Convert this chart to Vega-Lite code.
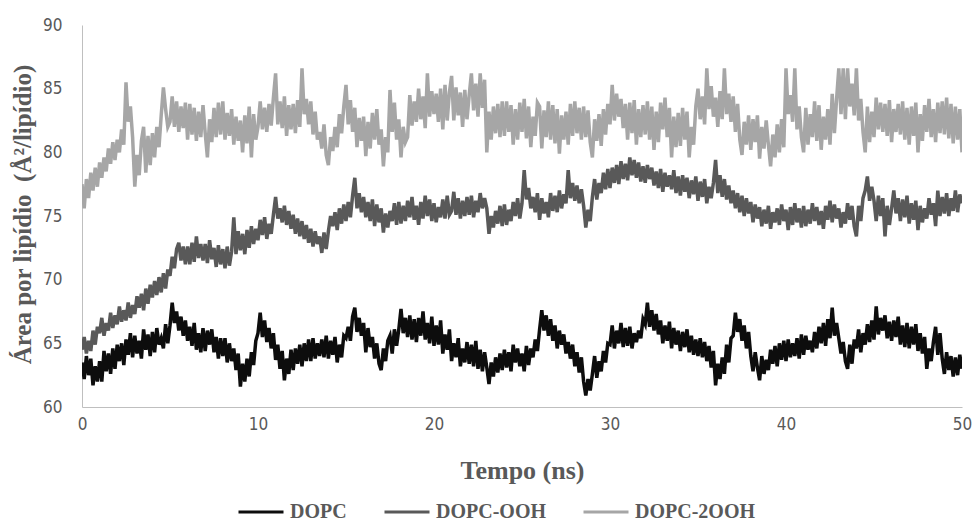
{
"$schema":"https://vega.github.io/schema/vega-lite/v6.json",
"width":880,"height":382,
"autosize":{"type":"none"},
"padding":{"left":82,"top":25,"right":11,"bottom":115},
"background":"white",
"config":{"view":{"stroke":null},"axis":{"grid":false,"ticks":false,"domainColor":"#bfbfbf","domainWidth":1,"labelColor":"#595959","labelFont":"Liberation Sans Narrow, DejaVu Sans Condensed, Liberation Sans","labelFontSize":17,"titleColor":"#595959","titleFont":"Liberation Serif","titleFontWeight":"bold"}},
"datasets":{"names":[{"k":"a","serie":"DOPC"},{"k":"b","serie":"DOPC-OOH"},{"k":"c","serie":"DOPC-2OOH"}]},
"data":{"values":[
{"t":0,"a":63.5,"b":64.5,"c":77.5},{"t":0.125,"a":62.2,"b":65.5,"c":75.6},{"t":0.25,"a":64.0,"b":64.2,"c":77.9},{"t":0.375,"a":62.5,"b":65.2,"c":76.4},{"t":0.5,"a":63.8,"b":64.4,"c":78.4},{"t":0.625,"a":61.7,"b":66.0,"c":77.0},{"t":0.75,"a":63.2,"b":64.9,"c":78.8},{"t":0.875,"a":62.0,"b":66.3,"c":77.3},
{"t":1,"a":63.6,"b":65.8,"c":79.2},{"t":1.125,"a":62.0,"b":67.0,"c":78.0},{"t":1.25,"a":64.4,"b":65.6,"c":79.6},{"t":1.375,"a":62.8,"b":66.6,"c":78.5},{"t":1.5,"a":64.2,"b":66.0,"c":80.3},{"t":1.625,"a":62.6,"b":67.4,"c":79.1},{"t":1.75,"a":64.6,"b":66.2,"c":80.8},{"t":1.875,"a":63.0,"b":67.2,"c":79.4},
{"t":2,"a":64.9,"b":66.5,"c":81.0},{"t":2.125,"a":63.6,"b":67.9,"c":80.0},{"t":2.25,"a":65.0,"b":66.7,"c":81.8},{"t":2.375,"a":63.3,"b":67.6,"c":80.6},{"t":2.5,"a":65.3,"b":66.8,"c":85.5},{"t":2.625,"a":64.1,"b":68.2,"c":82.4},{"t":2.75,"a":65.8,"b":67.0,"c":83.6},{"t":2.875,"a":63.9,"b":68.0,"c":81.2},
{"t":3,"a":65.6,"b":67.3,"c":77.3},{"t":3.125,"a":64.2,"b":68.7,"c":79.8},{"t":3.25,"a":65.2,"b":67.8,"c":78.2},{"t":3.375,"a":63.8,"b":68.9,"c":80.9},{"t":3.5,"a":66.1,"b":67.6,"c":82.0},{"t":3.625,"a":64.5,"b":69.3,"c":78.4},{"t":3.75,"a":65.7,"b":68.1,"c":81.3},{"t":3.875,"a":64.0,"b":69.6,"c":79.0},
{"t":4,"a":65.9,"b":68.6,"c":81.5},{"t":4.125,"a":64.3,"b":69.9,"c":79.6},{"t":4.25,"a":66.2,"b":68.8,"c":82.0},{"t":4.375,"a":64.9,"b":70.2,"c":80.4},{"t":4.5,"a":65.4,"b":69.0,"c":82.9},{"t":4.625,"a":64.6,"b":70.5,"c":85.1},{"t":4.75,"a":66.5,"b":69.3,"c":83.4},{"t":4.875,"a":65.0,"b":70.8,"c":82.0},
{"t":5,"a":66.4,"b":70.3,"c":82.4},{"t":5.125,"a":68.2,"b":71.8,"c":84.4},{"t":5.25,"a":66.6,"b":70.9,"c":82.0},{"t":5.375,"a":67.5,"b":72.4,"c":84.0},{"t":5.5,"a":66.0,"b":72.9,"c":81.6},{"t":5.625,"a":67.1,"b":71.5,"c":83.6},{"t":5.75,"a":65.6,"b":72.6,"c":81.9},{"t":5.875,"a":66.8,"b":71.2,"c":83.9},
{"t":6,"a":65.2,"b":72.6,"c":81.0},{"t":6.125,"a":66.3,"b":71.2,"c":83.8},{"t":6.25,"a":64.8,"b":72.9,"c":81.4},{"t":6.375,"a":66.6,"b":71.4,"c":83.5},{"t":6.5,"a":64.5,"b":73.4,"c":80.9},{"t":6.625,"a":65.8,"b":71.7,"c":83.2},{"t":6.75,"a":64.3,"b":72.8,"c":81.2},{"t":6.875,"a":66.2,"b":71.5,"c":83.7},
{"t":7,"a":64.4,"b":72.8,"c":81.5},{"t":7.125,"a":66.0,"b":71.3,"c":79.6},{"t":7.25,"a":64.9,"b":73.1,"c":82.6},{"t":7.375,"a":66.1,"b":71.6,"c":80.8},{"t":7.5,"a":64.3,"b":72.5,"c":83.5},{"t":7.625,"a":65.5,"b":71.0,"c":81.2},{"t":7.75,"a":63.8,"b":72.7,"c":83.9},{"t":7.875,"a":65.4,"b":71.2,"c":81.4},
{"t":8,"a":64.0,"b":72.4,"c":84.0},{"t":8.125,"a":65.4,"b":70.9,"c":81.0},{"t":8.25,"a":63.5,"b":72.6,"c":83.1},{"t":8.375,"a":65.0,"b":71.1,"c":81.3},{"t":8.5,"a":63.6,"b":72.2,"c":83.4},{"t":8.625,"a":64.6,"b":74.9,"c":80.6},{"t":8.75,"a":62.9,"b":72.0,"c":82.8},{"t":8.875,"a":64.2,"b":73.8,"c":80.9},
{"t":9,"a":61.6,"b":72.3,"c":82.5},{"t":9.125,"a":63.4,"b":73.6,"c":80.0},{"t":9.25,"a":62.0,"b":72.0,"c":82.9},{"t":9.375,"a":63.8,"b":73.9,"c":80.7},{"t":9.5,"a":62.4,"b":72.5,"c":83.6},{"t":9.625,"a":64.3,"b":74.2,"c":79.6},{"t":9.75,"a":63.3,"b":72.8,"c":83.0},{"t":9.875,"a":65.2,"b":74.0,"c":81.0},
{"t":10,"a":65.8,"b":73.1,"c":82.0},{"t":10.125,"a":67.4,"b":74.7,"c":84.0},{"t":10.25,"a":65.5,"b":73.5,"c":81.8},{"t":10.375,"a":66.8,"b":74.9,"c":83.5},{"t":10.5,"a":65.1,"b":73.2,"c":81.6},{"t":10.625,"a":66.2,"b":74.4,"c":83.8},{"t":10.75,"a":64.6,"b":73.6,"c":82.1},{"t":10.875,"a":65.8,"b":75.1,"c":84.3},
{"t":11,"a":63.7,"b":76.5,"c":86.2},{"t":11.125,"a":64.9,"b":74.8,"c":82.2},{"t":11.25,"a":63.0,"b":75.6,"c":84.0},{"t":11.375,"a":64.4,"b":74.5,"c":81.9},{"t":11.5,"a":62.1,"b":75.8,"c":84.4},{"t":11.625,"a":63.8,"b":74.3,"c":81.3},{"t":11.75,"a":62.6,"b":75.4,"c":83.7},{"t":11.875,"a":64.5,"b":74.0,"c":81.8},
{"t":12,"a":62.9,"b":75.1,"c":83.8},{"t":12.125,"a":64.6,"b":73.6,"c":81.5},{"t":12.25,"a":63.4,"b":74.8,"c":84.1},{"t":12.375,"a":64.9,"b":73.4,"c":82.0},{"t":12.5,"a":63.2,"b":74.6,"c":86.6},{"t":12.625,"a":65.0,"b":73.2,"c":83.0},{"t":12.75,"a":63.6,"b":74.3,"c":84.2},{"t":12.875,"a":65.3,"b":72.9,"c":82.2},
{"t":13,"a":63.6,"b":74.0,"c":84.0},{"t":13.125,"a":65.4,"b":72.6,"c":81.4},{"t":13.25,"a":63.8,"b":73.8,"c":83.2},{"t":13.375,"a":65.0,"b":72.8,"c":81.0},{"t":13.5,"a":64.0,"b":73.4,"c":81.6},{"t":13.625,"a":65.3,"b":72.1,"c":80.3},{"t":13.75,"a":63.9,"b":73.7,"c":82.2},{"t":13.875,"a":65.6,"b":72.4,"c":79.8},
{"t":14,"a":63.8,"b":73.8,"c":79.0},{"t":14.125,"a":65.2,"b":75.0,"c":81.2},{"t":14.25,"a":64.1,"b":74.2,"c":80.1},{"t":14.375,"a":65.5,"b":75.3,"c":82.0},{"t":14.5,"a":63.5,"b":73.9,"c":80.4},{"t":14.625,"a":64.9,"b":75.6,"c":83.0},{"t":14.75,"a":63.9,"b":74.4,"c":81.5},{"t":14.875,"a":65.6,"b":75.9,"c":83.6},
{"t":15,"a":65.4,"b":74.6,"c":85.3},{"t":15.125,"a":66.3,"b":76.1,"c":82.2},{"t":15.25,"a":65.2,"b":74.9,"c":84.1},{"t":15.375,"a":67.1,"b":76.6,"c":81.6},{"t":15.5,"a":67.8,"b":78.0,"c":83.5},{"t":15.625,"a":65.9,"b":75.6,"c":80.4},{"t":15.75,"a":67.0,"b":76.8,"c":82.7},{"t":15.875,"a":65.6,"b":75.3,"c":80.9},
{"t":16,"a":66.6,"b":76.5,"c":82.8},{"t":16.125,"a":64.3,"b":74.9,"c":79.7},{"t":16.25,"a":66.2,"b":76.1,"c":82.4},{"t":16.375,"a":64.7,"b":74.6,"c":80.3},{"t":16.5,"a":65.5,"b":76.3,"c":83.1},{"t":16.625,"a":63.8,"b":74.2,"c":81.0},{"t":16.75,"a":65.0,"b":75.9,"c":83.4},{"t":16.875,"a":63.4,"b":74.5,"c":80.6},
{"t":17,"a":62.9,"b":75.6,"c":81.8},{"t":17.125,"a":64.6,"b":73.7,"c":78.9},{"t":17.25,"a":63.6,"b":75.2,"c":81.2},{"t":17.375,"a":65.2,"b":74.1,"c":80.0},{"t":17.5,"a":65.6,"b":75.4,"c":84.9},{"t":17.625,"a":64.2,"b":74.6,"c":81.6},{"t":17.75,"a":66.1,"b":76.0,"c":83.9},{"t":17.875,"a":64.8,"b":74.3,"c":81.0},
{"t":18,"a":66.1,"b":76.1,"c":82.6},{"t":18.125,"a":67.7,"b":74.4,"c":79.6},{"t":18.25,"a":65.8,"b":75.8,"c":82.0},{"t":18.375,"a":67.0,"b":74.6,"c":80.8},{"t":18.5,"a":65.5,"b":76.2,"c":81.2},{"t":18.625,"a":67.2,"b":74.9,"c":84.5},{"t":18.75,"a":65.3,"b":76.5,"c":82.1},{"t":18.875,"a":66.9,"b":74.7,"c":84.0},
{"t":19,"a":65.1,"b":75.8,"c":82.4},{"t":19.125,"a":67.0,"b":74.3,"c":85.0},{"t":19.25,"a":65.6,"b":76.1,"c":82.6},{"t":19.375,"a":67.5,"b":74.8,"c":84.4},{"t":19.5,"a":65.3,"b":76.6,"c":81.9},{"t":19.625,"a":66.6,"b":75.0,"c":86.2},{"t":19.75,"a":65.0,"b":76.3,"c":82.8},{"t":19.875,"a":67.1,"b":74.6,"c":84.8},
{"t":20,"a":64.8,"b":76.0,"c":83.0},{"t":20.125,"a":66.4,"b":74.5,"c":84.6},{"t":20.25,"a":64.9,"b":75.7,"c":82.4},{"t":20.375,"a":66.8,"b":74.9,"c":85.0},{"t":20.5,"a":64.2,"b":76.3,"c":81.8},{"t":20.625,"a":65.7,"b":74.8,"c":85.3},{"t":20.75,"a":64.5,"b":76.6,"c":82.5},{"t":20.875,"a":66.1,"b":75.1,"c":84.7},
{"t":21,"a":63.6,"b":75.4,"c":86.0},{"t":21.125,"a":65.0,"b":76.9,"c":82.5},{"t":21.25,"a":63.9,"b":75.1,"c":85.1},{"t":21.375,"a":65.4,"b":76.4,"c":82.9},{"t":21.5,"a":63.2,"b":74.8,"c":84.7},{"t":21.625,"a":64.6,"b":76.2,"c":82.0},{"t":21.75,"a":63.5,"b":75.0,"c":84.9},{"t":21.875,"a":65.1,"b":76.5,"c":82.6},
{"t":22,"a":63.4,"b":75.1,"c":84.5},{"t":22.125,"a":64.9,"b":76.6,"c":86.2},{"t":22.25,"a":63.2,"b":74.9,"c":83.3},{"t":22.375,"a":65.2,"b":76.2,"c":85.4},{"t":22.5,"a":63.0,"b":75.3,"c":82.8},{"t":22.625,"a":64.5,"b":76.8,"c":86.2},{"t":22.75,"a":62.8,"b":75.6,"c":83.5},{"t":22.875,"a":64.3,"b":76.4,"c":85.7},
{"t":23,"a":63.1,"b":75.6,"c":80.0},{"t":23.125,"a":61.8,"b":73.6,"c":83.2},{"t":23.25,"a":63.5,"b":75.0,"c":81.0},{"t":23.375,"a":62.4,"b":74.1,"c":83.6},{"t":23.5,"a":63.9,"b":75.4,"c":81.5},{"t":23.625,"a":62.7,"b":74.4,"c":83.8},{"t":23.75,"a":64.2,"b":75.8,"c":81.2},{"t":23.875,"a":62.9,"b":74.2,"c":84.0},
{"t":24,"a":64.5,"b":75.9,"c":81.3},{"t":24.125,"a":63.1,"b":74.3,"c":84.0},{"t":24.25,"a":64.3,"b":75.5,"c":81.6},{"t":24.375,"a":62.8,"b":74.6,"c":83.7},{"t":24.5,"a":64.9,"b":76.1,"c":80.6},{"t":24.625,"a":63.5,"b":75.0,"c":83.4},{"t":24.75,"a":64.6,"b":76.4,"c":81.0},{"t":24.875,"a":63.2,"b":74.8,"c":83.9},
{"t":25,"a":64.2,"b":76.0,"c":81.6},{"t":25.125,"a":62.8,"b":78.6,"c":84.2},{"t":25.25,"a":64.8,"b":76.3,"c":81.1},{"t":25.375,"a":63.3,"b":77.2,"c":83.6},{"t":25.5,"a":64.6,"b":75.6,"c":80.4},{"t":25.625,"a":63.9,"b":76.5,"c":82.8},{"t":25.75,"a":65.3,"b":75.3,"c":81.3},{"t":25.875,"a":64.4,"b":76.8,"c":83.9},
{"t":26,"a":66.1,"b":74.7,"c":83.6},{"t":26.125,"a":67.6,"b":76.4,"c":80.3},{"t":26.25,"a":66.0,"b":75.2,"c":83.3},{"t":26.375,"a":67.2,"b":76.1,"c":81.2},{"t":26.5,"a":65.6,"b":74.9,"c":84.0},{"t":26.625,"a":66.9,"b":76.8,"c":81.0},{"t":26.75,"a":65.2,"b":75.4,"c":83.7},{"t":26.875,"a":66.4,"b":76.6,"c":80.7},
{"t":27,"a":64.6,"b":75.3,"c":83.4},{"t":27.125,"a":66.0,"b":77.0,"c":79.9},{"t":27.25,"a":64.9,"b":75.6,"c":82.9},{"t":27.375,"a":65.7,"b":76.7,"c":81.0},{"t":27.5,"a":64.2,"b":76.0,"c":83.2},{"t":27.625,"a":65.1,"b":78.6,"c":80.6},{"t":27.75,"a":63.8,"b":76.4,"c":83.8},{"t":27.875,"a":64.9,"b":77.6,"c":81.3},
{"t":28,"a":63.2,"b":76.2,"c":84.0},{"t":28.125,"a":64.3,"b":77.4,"c":81.5},{"t":28.25,"a":62.7,"b":76.0,"c":83.5},{"t":28.375,"a":63.9,"b":77.1,"c":81.0},{"t":28.5,"a":62.0,"b":75.8,"c":83.6},{"t":28.625,"a":60.9,"b":74.1,"c":81.2},{"t":28.75,"a":62.2,"b":75.5,"c":83.3},{"t":28.875,"a":61.3,"b":74.6,"c":80.8},
{"t":29,"a":62.6,"b":76.5,"c":79.6},{"t":29.125,"a":64.0,"b":77.9,"c":82.6},{"t":29.25,"a":62.3,"b":76.3,"c":80.9},{"t":29.375,"a":63.6,"b":77.6,"c":83.0},{"t":29.5,"a":62.8,"b":76.8,"c":80.5},{"t":29.625,"a":64.4,"b":78.4,"c":83.4},{"t":29.75,"a":63.5,"b":77.1,"c":81.4},{"t":29.875,"a":65.0,"b":78.7,"c":83.8},
{"t":30,"a":64.9,"b":77.2,"c":82.2},{"t":30.125,"a":66.4,"b":78.8,"c":85.3},{"t":30.25,"a":64.6,"b":77.6,"c":82.5},{"t":30.375,"a":66.0,"b":79.0,"c":84.6},{"t":30.5,"a":65.0,"b":77.5,"c":82.8},{"t":30.625,"a":66.6,"b":79.3,"c":84.2},{"t":30.75,"a":64.7,"b":77.9,"c":81.9},{"t":30.875,"a":66.2,"b":79.1,"c":83.8},
{"t":31,"a":64.8,"b":77.8,"c":81.0},{"t":31.125,"a":66.3,"b":79.6,"c":83.9},{"t":31.25,"a":64.6,"b":78.2,"c":81.5},{"t":31.375,"a":65.8,"b":79.4,"c":84.1},{"t":31.5,"a":65.1,"b":78.0,"c":80.6},{"t":31.625,"a":66.0,"b":79.2,"c":83.4},{"t":31.75,"a":65.4,"b":77.7,"c":81.2},{"t":31.875,"a":66.9,"b":78.9,"c":83.7},
{"t":32,"a":66.5,"b":77.6,"c":81.4},{"t":32.125,"a":68.2,"b":79.0,"c":84.0},{"t":32.25,"a":66.3,"b":77.9,"c":81.0},{"t":32.375,"a":67.6,"b":78.8,"c":83.6},{"t":32.5,"a":66.0,"b":77.4,"c":80.2},{"t":32.625,"a":67.3,"b":78.5,"c":83.2},{"t":32.75,"a":65.7,"b":77.2,"c":80.8},{"t":32.875,"a":66.8,"b":78.7,"c":83.9},
{"t":33,"a":65.0,"b":76.9,"c":81.8},{"t":33.125,"a":66.4,"b":78.4,"c":84.3},{"t":33.25,"a":65.2,"b":77.3,"c":81.2},{"t":33.375,"a":66.7,"b":78.2,"c":83.5},{"t":33.5,"a":64.6,"b":77.1,"c":79.6},{"t":33.625,"a":66.2,"b":78.6,"c":82.8},{"t":33.75,"a":64.9,"b":76.8,"c":80.4},{"t":33.875,"a":66.0,"b":78.1,"c":83.1},
{"t":34,"a":64.4,"b":76.6,"c":80.5},{"t":34.125,"a":65.9,"b":78.2,"c":83.5},{"t":34.25,"a":64.7,"b":76.9,"c":81.0},{"t":34.375,"a":66.1,"b":78.0,"c":83.2},{"t":34.5,"a":64.3,"b":76.4,"c":79.6},{"t":34.625,"a":65.6,"b":77.8,"c":82.0},{"t":34.75,"a":64.1,"b":76.7,"c":80.6},{"t":34.875,"a":65.3,"b":78.1,"c":83.6},
{"t":35,"a":64.0,"b":76.2,"c":85.0},{"t":35.125,"a":65.4,"b":77.7,"c":82.6},{"t":35.25,"a":63.9,"b":76.5,"c":84.4},{"t":35.375,"a":65.1,"b":77.9,"c":82.2},{"t":35.5,"a":63.6,"b":76.0,"c":86.6},{"t":35.625,"a":64.8,"b":77.3,"c":83.4},{"t":35.75,"a":63.1,"b":76.4,"c":85.2},{"t":35.875,"a":64.4,"b":77.6,"c":82.8},
{"t":36,"a":61.7,"b":79.4,"c":84.3},{"t":36.125,"a":63.4,"b":76.8,"c":82.0},{"t":36.25,"a":62.2,"b":78.2,"c":84.8},{"t":36.375,"a":63.9,"b":76.5,"c":82.6},{"t":36.5,"a":62.6,"b":77.9,"c":86.6},{"t":36.625,"a":64.9,"b":76.3,"c":83.0},{"t":36.75,"a":63.5,"b":77.4,"c":84.6},{"t":36.875,"a":65.4,"b":76.0,"c":82.4},
{"t":37,"a":65.6,"b":77.0,"c":84.4},{"t":37.125,"a":67.4,"b":75.6,"c":81.6},{"t":37.25,"a":65.9,"b":76.8,"c":83.8},{"t":37.375,"a":66.9,"b":75.3,"c":81.0},{"t":37.5,"a":65.2,"b":76.6,"c":79.8},{"t":37.625,"a":66.4,"b":75.0,"c":82.4},{"t":37.75,"a":64.6,"b":76.4,"c":80.6},{"t":37.875,"a":65.9,"b":75.2,"c":82.9},
{"t":38,"a":64.0,"b":76.1,"c":80.2},{"t":38.125,"a":62.8,"b":74.5,"c":82.6},{"t":38.25,"a":64.3,"b":75.9,"c":80.8},{"t":38.375,"a":63.1,"b":74.8,"c":82.9},{"t":38.5,"a":62.1,"b":75.7,"c":79.5},{"t":38.625,"a":64.0,"b":74.2,"c":82.0},{"t":38.75,"a":62.6,"b":75.5,"c":80.3},{"t":38.875,"a":63.7,"b":74.4,"c":82.5},
{"t":39,"a":62.9,"b":75.8,"c":80.6},{"t":39.125,"a":64.5,"b":74.0,"c":78.9},{"t":39.25,"a":63.4,"b":75.3,"c":81.4},{"t":39.375,"a":64.8,"b":74.5,"c":79.6},{"t":39.5,"a":63.2,"b":75.6,"c":82.2},{"t":39.625,"a":65.0,"b":74.3,"c":80.0},{"t":39.75,"a":63.7,"b":75.9,"c":82.6},{"t":39.875,"a":65.2,"b":74.6,"c":80.4},
{"t":40,"a":63.6,"b":75.5,"c":86.6},{"t":40.125,"a":65.3,"b":73.9,"c":83.0},{"t":40.25,"a":63.9,"b":75.7,"c":84.5},{"t":40.375,"a":65.0,"b":74.3,"c":82.4},{"t":40.5,"a":64.0,"b":76.0,"c":86.6},{"t":40.625,"a":65.4,"b":74.5,"c":81.8},{"t":40.75,"a":63.8,"b":75.6,"c":83.6},{"t":40.875,"a":65.7,"b":74.1,"c":81.2},
{"t":41,"a":64.1,"b":75.8,"c":80.0},{"t":41.125,"a":65.6,"b":74.2,"c":83.5},{"t":41.25,"a":64.5,"b":75.5,"c":80.6},{"t":41.375,"a":65.2,"b":74.4,"c":83.0},{"t":41.5,"a":64.3,"b":76.0,"c":81.2},{"t":41.625,"a":65.9,"b":74.6,"c":84.0},{"t":41.75,"a":64.6,"b":75.7,"c":80.9},{"t":41.875,"a":66.3,"b":74.3,"c":83.7},
{"t":42,"a":65.0,"b":75.4,"c":80.2},{"t":42.125,"a":66.6,"b":74.0,"c":82.8},{"t":42.25,"a":64.8,"b":75.8,"c":81.0},{"t":42.375,"a":66.9,"b":74.7,"c":83.4},{"t":42.5,"a":65.4,"b":76.2,"c":80.6},{"t":42.625,"a":67.8,"b":74.5,"c":84.6},{"t":42.75,"a":65.6,"b":75.9,"c":81.5},{"t":42.875,"a":66.6,"b":74.8,"c":84.2},
{"t":43,"a":65.4,"b":75.6,"c":86.6},{"t":43.125,"a":64.2,"b":74.1,"c":83.0},{"t":43.25,"a":65.1,"b":75.3,"c":86.6},{"t":43.375,"a":63.6,"b":74.4,"c":82.6},{"t":43.5,"a":63.0,"b":76.0,"c":86.6},{"t":43.625,"a":64.9,"b":74.7,"c":83.6},{"t":43.75,"a":63.4,"b":75.8,"c":85.4},{"t":43.875,"a":65.3,"b":74.2,"c":82.9},
{"t":44,"a":64.6,"b":73.4,"c":86.6},{"t":44.125,"a":66.1,"b":75.8,"c":82.5},{"t":44.25,"a":64.3,"b":74.6,"c":84.2},{"t":44.375,"a":65.8,"b":76.4,"c":81.6},{"t":44.5,"a":64.9,"b":77.0,"c":80.0},{"t":44.625,"a":66.5,"b":78.1,"c":83.6},{"t":44.75,"a":65.1,"b":76.2,"c":80.8},{"t":44.875,"a":66.8,"b":77.3,"c":83.2},
{"t":45,"a":65.3,"b":76.2,"c":81.2},{"t":45.125,"a":67.9,"b":74.6,"c":84.3},{"t":45.25,"a":65.7,"b":76.6,"c":81.8},{"t":45.375,"a":67.0,"b":75.0,"c":83.9},{"t":45.5,"a":66.0,"b":76.4,"c":81.6},{"t":45.625,"a":67.2,"b":73.4,"c":83.8},{"t":45.75,"a":65.4,"b":75.8,"c":81.3},{"t":45.875,"a":66.7,"b":74.3,"c":84.1},
{"t":46,"a":65.2,"b":75.6,"c":80.8},{"t":46.125,"a":66.8,"b":77.0,"c":83.4},{"t":46.25,"a":65.5,"b":75.2,"c":81.6},{"t":46.375,"a":67.1,"b":76.4,"c":83.8},{"t":46.5,"a":64.9,"b":74.6,"c":81.4},{"t":46.625,"a":66.4,"b":76.3,"c":84.0},{"t":46.75,"a":64.7,"b":74.9,"c":81.0},{"t":46.875,"a":66.6,"b":76.6,"c":83.5},
{"t":47,"a":64.6,"b":74.4,"c":80.6},{"t":47.125,"a":66.3,"b":76.0,"c":83.6},{"t":47.25,"a":64.9,"b":74.7,"c":81.3},{"t":47.375,"a":66.5,"b":76.2,"c":83.9},{"t":47.5,"a":64.4,"b":73.9,"c":80.0},{"t":47.625,"a":65.8,"b":75.8,"c":83.0},{"t":47.75,"a":64.2,"b":74.5,"c":80.9},{"t":47.875,"a":65.5,"b":75.6,"c":83.7},
{"t":48,"a":63.0,"b":74.8,"c":81.6},{"t":48.125,"a":64.6,"b":76.4,"c":84.2},{"t":48.25,"a":63.6,"b":75.1,"c":81.2},{"t":48.375,"a":65.1,"b":76.0,"c":83.4},{"t":48.5,"a":66.3,"b":74.2,"c":80.8},{"t":48.625,"a":64.1,"b":77.0,"c":83.9},{"t":48.75,"a":65.8,"b":75.0,"c":81.5},{"t":48.875,"a":63.8,"b":76.5,"c":84.0},
{"t":49,"a":62.6,"b":75.2,"c":81.4},{"t":49.125,"a":64.3,"b":76.8,"c":84.3},{"t":49.25,"a":62.9,"b":75.0,"c":81.1},{"t":49.375,"a":64.0,"b":76.4,"c":83.8},{"t":49.5,"a":62.4,"b":75.4,"c":80.7},{"t":49.625,"a":63.9,"b":77.0,"c":83.6},{"t":49.75,"a":62.5,"b":75.3,"c":81.0},{"t":49.875,"a":64.1,"b":76.7,"c":83.4},
{"t":50,"a":63.0,"b":76.0,"c":80.0}
]},
"transform":[{"fold":["a","b","c"],"as":["k","area"]},{"lookup":"k","from":{"data":{"name":"names"},"key":"k","fields":["serie"]}}],
"mark":{"type":"line","strokeWidth":3.5,"clip":true},
"encoding":{
"x":{"field":"t","type":"quantitative","scale":{"domain":[0,50],"nice":false},"axis":{"values":[0,10,20,30,40,50],"labelFlush":false,"labelPadding":9,"title":"Tempo (ns)","titleFontSize":26,"titleY":71,"titleBaseline":"alphabetic"}},
"y":{"field":"area","type":"quantitative","scale":{"domain":[60,90],"nice":false,"zero":false},"axis":{"values":[60,65,70,75,80,85,90],"labelPadding":20,"title":"Área por lipídio\u00a0 (Å²/lipídio)","titleFontSize":25,"titleX":-47,"titleY":189,"titleAngle":-90,"titleAlign":"center","titleBaseline":"bottom"}},
"color":{"field":"serie","type":"nominal","scale":{"domain":["DOPC","DOPC-OOH","DOPC-2OOH"],"range":["#0d0d0d","#595959","#a6a6a6"]},"legend":{"title":null,"orient":"none","legendX":155,"legendY":463,"direction":"horizontal","symbolType":"stroke","symbolSize":2025,"symbolStrokeWidth":3,"labelFont":"Liberation Serif","labelFontWeight":"bold","labelFontSize":20,"labelColor":"#595959","labelOffset":5,"columnPadding":31,"padding":0}}
}
}
